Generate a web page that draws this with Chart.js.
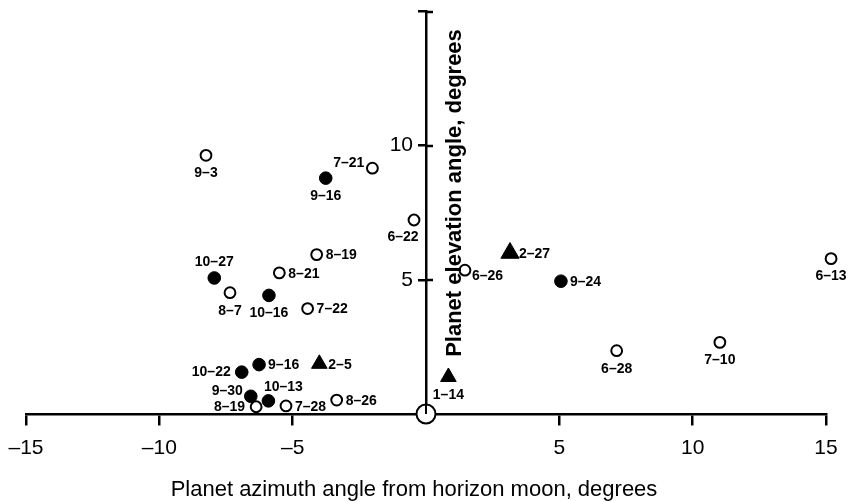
<!DOCTYPE html>
<html><head><meta charset="utf-8">
<script src="https://cdn.jsdelivr.net/npm/chart.js@4/dist/chart.umd.min.js"></script>
<style>html,body{margin:0;padding:0;background:#fff;}#wrap{width:848px;height:502px;}</style>
</head><body><div id="wrap"><canvas id="c" width="848" height="502"></canvas></div>
<script>
// ---- data ----
const xTickValues = [-15, -10, -5, 0, 5, 10, 15];
const yTickValues = [0, 5, 10, 15];
const yTickLabelled = [5, 10];
const xTitle = 'Planet azimuth angle from horizon moon, degrees';
const yTitle = 'Planet elevation angle, degrees';

const openX = [-8.25, -2.01, -0.45, -4.10, -5.50, 1.46, -7.35, -4.44, 15.19, 7.15, 11.02, -6.37, -5.25, -3.35];
const openY = [9.64, 9.16, 7.23, 5.94, 5.26, 5.36, 4.52, 3.93, 5.79, 2.36, 2.67, 0.27, 0.30, 0.52];
const openLabels = ['9–3', '7–21', '6–22', '8–19', '8–21', '6–26', '8–7', '7–22', '6–13', '6–28', '7–10', '8–19', '7–28', '8–26'];
const openPlace = ['b', 'tl', 'bl', 'r', 'r', 'rb', 'b', 'r', 'b', 'b', 'b', 'l', 'r', 'r'];

const filledX = [-3.76, -7.94, -5.89, 5.06, -6.91, -6.26, -6.57, -5.91];
const filledY = [8.79, 5.07, 4.42, 4.95, 1.56, 1.84, 0.66, 0.49];
const filledLabels = ['9–16', '10–27', '10–16', '9–24', '10–22', '9–16', '9–30', '10–13'];
const filledPlace = ['b', 'a', 'b', 'r', 'l', 'r', 'tl', 'tr'];

const triX = [3.15, -4.00, 0.84];
const triY = [6.00, 1.87, 1.38];
const triLabels = ['2–27', '2–5', '1–14'];
const triPlace = ['r', 'r', 'b'];

const moonX = [0];
const moonY = [0];

// ---- styling ----
const FONT = '"Liberation Sans", Arial, Helvetica, sans-serif';
const PLACE = { b:[0,18,'center'], a:[0,-16,'center'], r:[9,1,'left'], l:[-11,0,'right'],
  tl:[-8,-5,'right'], tr:[15,-14,'center'], bl:[-11,17,'center'], rb:[7,6,'left'] };

const toPts = (xs, ys) => xs.map((x, i) => ({ x, y: ys[i] }));

const deco = {
  id: 'deco',
  afterDatasetsDraw(chart) {
    const c = chart.ctx, xs = chart.scales.x, ys = chart.scales.y;
    const x0 = xs.getPixelForValue(0), y0 = ys.getPixelForValue(0);
    c.save();
    c.strokeStyle = '#000'; c.lineWidth = 2.5;
    // right halves of the y ticks
    yTickValues.filter(v => v > 0).forEach(v => {
      const py = Math.round(ys.getPixelForValue(v));
      c.beginPath(); c.moveTo(x0, py); c.lineTo(x0 + 7, py); c.stroke();
    });
    // stub inside moon circle
    c.lineWidth = 2;
    c.beginPath(); c.moveTo(x0, y0 - 9); c.lineTo(x0, y0); c.stroke();
    // point labels
    c.fillStyle = '#000';
    c.font = 'bold 14px ' + FONT;
    c.textBaseline = 'middle';
    const sets = [[1, openLabels, openPlace], [2, filledLabels, filledPlace], [3, triLabels, triPlace]];
    sets.forEach(([di, labs, pl]) => {
      const meta = chart.getDatasetMeta(di);
      meta.data.forEach((el, j) => {
        const p = PLACE[pl[j]];
        c.textAlign = p[2];
        c.fillText(labs[j], el.x + p[0], el.y + p[1]);
      });
    });
    // axis titles
    c.font = '22px ' + FONT;
    c.textAlign = 'center';
    c.textBaseline = 'alphabetic';
    c.fillText(xTitle, 414, 496);
    c.save();
    c.translate(461, 193);
    c.rotate(-Math.PI / 2);
    c.font = 'bold 22px ' + FONT;
    c.fillText(yTitle, 0, 0);
    c.restore();
    c.restore();
  }
};

const tickColor = ctx => (ctx.tick && ctx.tick.value === 0) ? 'rgba(0,0,0,0)' : '#000';

new Chart(document.getElementById('c'), {
  type: 'scatter',
  data: {
    datasets: [
      { data: toPts(moonX, moonY), pointRadius: 9.5, pointHoverRadius: 9.5, pointBackgroundColor: '#fff',
        pointBorderColor: '#000', pointBorderWidth: 2, clip: false },
      { data: toPts(openX, openY), pointRadius: 5.4, pointHoverRadius: 5.4, pointBackgroundColor: '#fff',
        pointBorderColor: '#000', pointBorderWidth: 2, clip: false },
      { data: toPts(filledX, filledY), pointRadius: 6.3, pointHoverRadius: 6.3, pointBackgroundColor: '#000',
        pointBorderColor: '#000', pointBorderWidth: 1, clip: false },
      { data: toPts(triX, triY), pointStyle: 'triangle', pointRadius: ctx => ctx.dataIndex === 0 ? 10.5 : 9,
        pointBackgroundColor: '#000', pointBorderColor: '#000', pointBorderWidth: 1, clip: false }
    ]
  },
  options: {
    responsive: false, animation: false, devicePixelRatio: 1, events: [],
    layout: { padding: { left: 26, right: 22, top: 8, bottom: 88 } },
    plugins: { legend: { display: false }, tooltip: { enabled: false } },
    scales: {
      x: {
        type: 'linear', min: -15, max: 15, position: { y: 0 },
        afterBuildTicks: s => { s.ticks = xTickValues.map(v => ({ value: v })); },
        afterFit: s => { s.paddingLeft = 0; s.paddingRight = 0; },
        ticks: { color: '#000', font: { family: FONT, size: 21 }, padding: 12, maxRotation: 0, autoSkip: false,
          callback: v => v === 0 ? '' : String(v).replace('-', '–') },
        grid: { drawOnChartArea: false, drawTicks: true, tickLength: 10, color: tickColor, lineWidth: 2.5 },
        border: { display: true, color: '#000', width: 2.5 }
      },
      y: {
        type: 'linear', min: 0, max: 15, position: 'center',
        afterBuildTicks: s => { s.ticks = yTickValues.map(v => ({ value: v })); },
        ticks: { color: '#000', padding: 6, autoSkip: false,
          font: ctx => ({ family: FONT, size: (ctx.tick && yTickLabelled.includes(ctx.tick.value)) ? 21 : 1 }),
          callback: v => yTickLabelled.includes(v) ? String(v) : '' },
        grid: { drawOnChartArea: false, drawTicks: true, tickLength: 7, color: tickColor, lineWidth: 2.5 },
        border: { display: true, color: '#000', width: 2.5 }
      }
    }
  },
  plugins: [deco]
});
</script>
</body></html>
